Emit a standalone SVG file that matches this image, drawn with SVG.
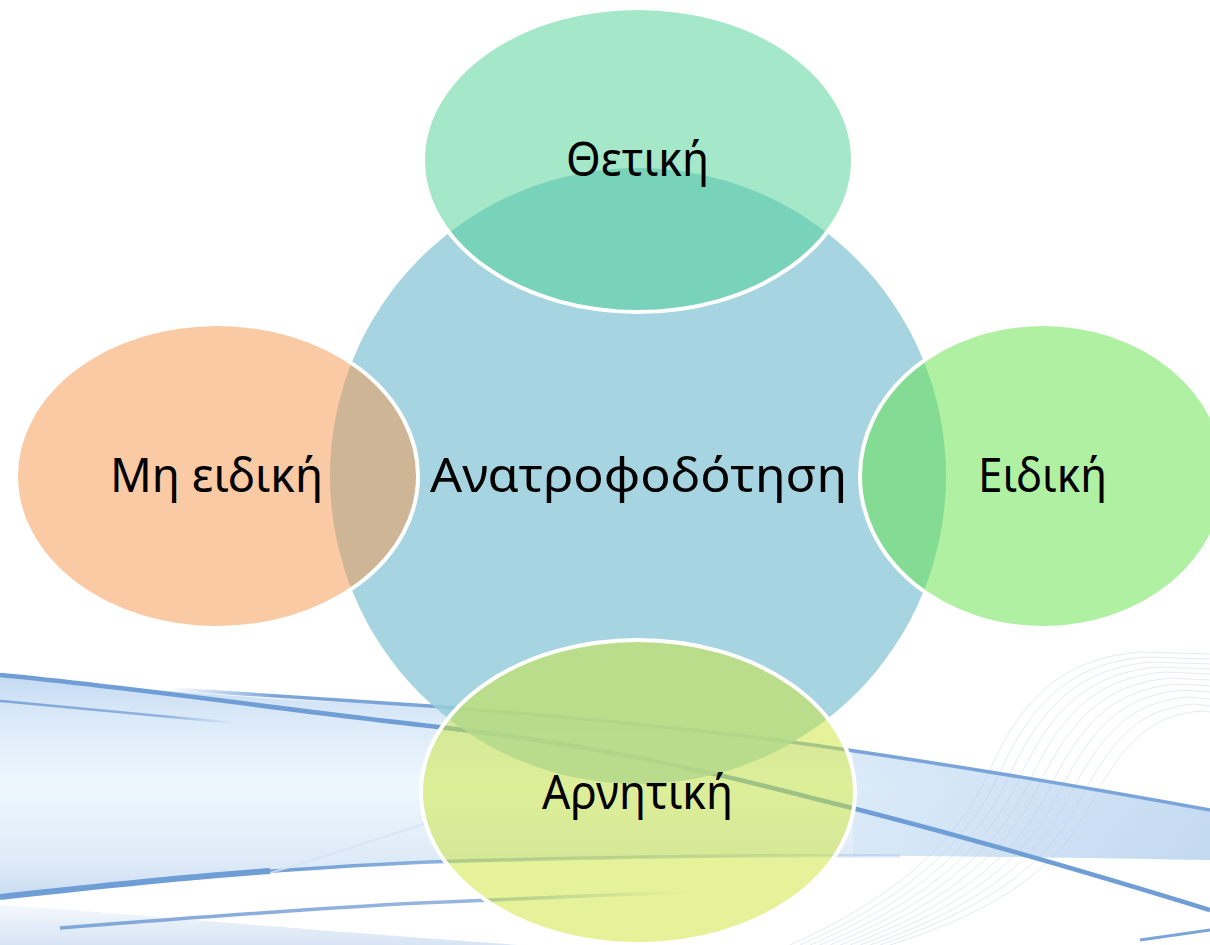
<svg xmlns="http://www.w3.org/2000/svg" width="1210" height="945" viewBox="0 0 1210 945">
  <defs>
    <linearGradient id="band" x1="0" y1="675" x2="0" y2="900" gradientUnits="userSpaceOnUse">
      <stop offset="0" stop-color="#C3D9F1"/>
      <stop offset="0.18" stop-color="#DAE9F8"/>
      <stop offset="0.5" stop-color="#EDF7FD"/>
      <stop offset="0.85" stop-color="#DCE9F7"/>
      <stop offset="1" stop-color="#C8DBF1"/>
    </linearGradient>
    <linearGradient id="fadeR" x1="0" y1="0" x2="1" y2="0">
      <stop offset="0" stop-color="#7FA6D9" stop-opacity="1"/>
      <stop offset="0.7" stop-color="#7FA6D9" stop-opacity="0.8"/>
      <stop offset="1" stop-color="#7FA6D9" stop-opacity="0"/>
    </linearGradient>
    <linearGradient id="fadeR2" x1="0" y1="0" x2="1" y2="0">
      <stop offset="0" stop-color="#6F9DD5" stop-opacity="1"/>
      <stop offset="1" stop-color="#6F9DD5" stop-opacity="0.2"/>
    </linearGradient>
    <linearGradient id="fadeIn" x1="170" y1="0" x2="1210" y2="0" gradientUnits="userSpaceOnUse">
      <stop offset="0" stop-color="#7BA5DA" stop-opacity="0"/>
      <stop offset="0.1" stop-color="#7BA5DA" stop-opacity="1"/>
      <stop offset="1" stop-color="#7BA5DA" stop-opacity="1"/>
    </linearGradient>
    <linearGradient id="bottomStrip" x1="0" y1="905" x2="0" y2="945" gradientUnits="userSpaceOnUse">
      <stop offset="0" stop-color="#F4F8FC"/>
      <stop offset="1" stop-color="#D6E4F4"/>
    </linearGradient>
    <linearGradient id="rightBand" x1="853" y1="0" x2="1210" y2="0" gradientUnits="userSpaceOnUse">
      <stop offset="0" stop-color="#D6E7F7"/>
      <stop offset="1" stop-color="#BDD5EF"/>
    </linearGradient>
  </defs>
  <style>
    .lbl { font-family: "Noto Sans", "Open Sans", "DejaVu Sans", sans-serif; font-size: 48px; fill: #000000; text-anchor: middle; }
    .ell { fill-opacity: 0.5; stroke: #FFFFFF; stroke-width: 4; }
    .wave { fill: none; stroke: #B9CBE3; stroke-width: 1; opacity: 0.4; }
  </style>

  <rect x="0" y="0" width="1210" height="945" fill="#FFFFFF"/>

  <g id="background">
    <path d="M0,676 C140,690 300,702 430,706 C600,716 760,738 880,756 C1000,774 1110,792 1210,810 L1210,860 C1050,857 900,855 800,856 C600,858 450,861 380,864 C250,870 120,884 0,897 Z" fill="url(#band)"/>
    <path d="M853,752 C960,767 1100,790 1210,810 L1210,860 C1050,857 930,856 853,856 Z" fill="url(#rightBand)" opacity="0.8"/>
    <path d="M0,905 C150,915 300,930 520,945 L0,945 Z" fill="url(#bottomStrip)"/>
    <g>
      <path class="wave" d="M790,945 C880,905 955,850 990,770 C1025,690 1070,658 1140,652 L1210,654"/>
      <path class="wave" d="M800,945 C890,906 965,852 1000,772 C1035,694 1078,663 1146,657 L1210,659"/>
      <path class="wave" d="M810,945 C900,907 975,854 1010,774 C1045,698 1086,668 1152,662 L1210,664"/>
      <path class="wave" d="M820,945 C910,908 985,856 1020,777 C1055,702 1094,673 1158,667 L1210,669"/>
      <path class="wave" d="M830,945 C920,909 995,858 1030,780 C1065,706 1102,678 1164,672 L1210,674"/>
      <path class="wave" d="M840,945 C930,910 1005,861 1040,783 C1075,711 1110,684 1170,678 L1210,680"/>
      <path class="wave" d="M850,945 C940,911 1015,864 1050,787 C1085,716 1118,690 1176,684 L1210,686"/>
      <path class="wave" d="M860,945 C950,912 1025,867 1060,791 C1095,721 1126,696 1182,690 L1210,692"/>
      <path class="wave" d="M870,945 C960,913 1035,870 1070,795 C1105,727 1134,702 1188,697 L1210,699"/>
      <path class="wave" d="M880,945 C970,914 1045,873 1080,800 C1115,733 1142,709 1194,704 L1210,706"/>
      <path class="wave" d="M890,945 C980,916 1055,877 1090,805 C1125,740 1150,716 1200,711 L1210,712"/>
    </g>
    <path d="M0,675 C140,688 300,712 430,726 C600,745 720,774 820,800 C950,832 1080,870 1210,910" fill="none" stroke="#6F9DD5" stroke-width="4.5"/>
    <path d="M170,689 C260,695 340,700 430,706 C560,716 700,729 820,746 C960,766 1100,790 1210,810" fill="none" stroke="url(#fadeIn)" stroke-width="3.5"/>
    <path d="M0,701 C80,708 160,716 235,723" fill="none" stroke="url(#fadeR)" stroke-width="2.5"/>
    <path d="M0,897 C100,886 200,876 270,871" fill="none" stroke="#6F9DD5" stroke-width="6"/>
    <path d="M260,872 C330,867 380,864 430,862 C600,857 780,855 900,856" fill="none" stroke="url(#fadeR2)" stroke-width="3.5"/>
    <path d="M60,928 C200,917 320,908 420,903 C520,899 600,895 690,892" fill="none" stroke="url(#fadeR)" stroke-width="3.5"/>
    <path d="M270,873 C330,855 380,838 430,822" fill="none" stroke="#D3E3F4" stroke-width="2" opacity="0.8"/>
    <path d="M1140,940 L1210,930" fill="none" stroke="#7BA5DA" stroke-width="3"/>
  </g>

  <g id="center">
    <circle cx="638" cy="476" r="308" fill="#96CCDA" fill-opacity="0.85"/>
    <text class="lbl" x="638.5" y="492" textLength="417" lengthAdjust="spacingAndGlyphs">Ανατροφοδότηση</text>
  </g>

  <g id="node-top">
    <ellipse class="ell" cx="638" cy="160" rx="215" ry="152" fill="#4BD193"/>
    <text class="lbl" x="637.5" y="176" textLength="143" lengthAdjust="spacingAndGlyphs">Θετική</text>
  </g>

  <g id="node-left">
    <ellipse class="ell" cx="217" cy="476" rx="201" ry="152" fill="#F39549"/>
    <text class="lbl" x="216.5" y="492" textLength="213" lengthAdjust="spacingAndGlyphs">Μη ειδική</text>
  </g>

  <g id="node-right">
    <ellipse class="ell" cx="1043" cy="476" rx="183" ry="152" fill="#61E145"/>
    <text class="lbl" x="1042.5" y="492" textLength="129" lengthAdjust="spacingAndGlyphs">Ειδική</text>
  </g>

  <g id="node-bottom">
    <ellipse class="ell" cx="638" cy="792" rx="217" ry="152" fill="#CDE535"/>
    <text class="lbl" x="637.5" y="809" textLength="191" lengthAdjust="spacingAndGlyphs">Αρνητική</text>
  </g>

  <g id="connectors"></g>
</svg>
